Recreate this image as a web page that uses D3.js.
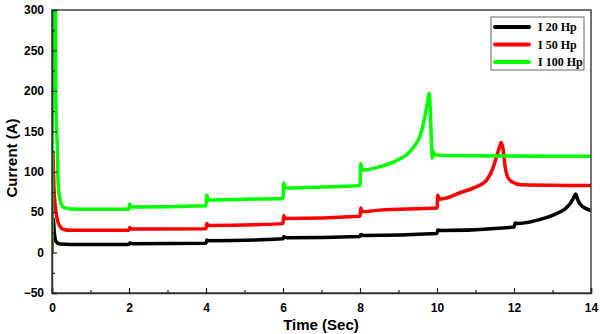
<!DOCTYPE html>
<html><head><meta charset="utf-8">
<script src="https://cdn.jsdelivr.net/npm/d3@7"></script>
<style>body{margin:0;background:#fff}svg{display:block}</style>
</head><body>
<svg id="c" width="600" height="334"></svg>
<script>
const seriesNames = ["I 20 Hp", "I 50 Hp", "I 100 Hp"];
const seriesColors = ["#000000", "#ff0000", "#00ff00"];
const xTicks = [0, 2, 4, 6, 8, 10, 12, 14];
const yTicks = [-50, 0, 50, 100, 150, 200, 250, 300];

const i20 = [[0,0],[0.03,42],[0.06,25],[0.1,14],[0.2,10.5],[0.5,10],[2,10],[2.02,11.8],[2.1,11],[4,11.5],[4.02,15.5],[4.1,14.5],[6,17],[6.02,19.5],[6.1,18.3],[8,20],[8.02,22.5],[8.1,21],[10,23.5],[10.02,27.8],[10.1,27.3],[12,31.5],[12.03,36.5],[12.1,36],[12.75,42],[13.1,48],[13.3,53],[13.45,60],[13.55,68],[13.6,72.5],[13.65,66],[13.75,58],[13.85,55],[14,52]];
const i50 = [[0,0],[0.02,125],[0.05,80],[0.07,65],[0.12,45],[0.2,33],[0.3,28.5],[0.5,27.5],[2,27.5],[2.02,31],[2.06,29],[4,29.5],[4.02,36],[4.06,33.5],[6,35.8],[6.02,46],[6.06,42],[8,45],[8.02,55],[8.06,50.5],[8.5,52.5],[10,55],[10.02,71],[10.06,66],[10.2,67],[10.6,74],[11.0,81],[11.28,89],[11.45,104],[11.55,119],[11.62,130],[11.67,136],[11.72,127],[11.77,106],[11.83,94],[11.93,88],[12.2,84],[14,83]];
const i100 = [[0,0],[0.01,320],[0.09,320],[0.1,190],[0.14,127],[0.16,86],[0.21,65],[0.3,56],[0.5,54],[1,53.5],[2,53.5],[2.02,60],[2.05,56.5],[4,58],[4.02,71],[4.06,65],[5,66],[6,67],[6.02,86],[6.06,80],[7,81],[8,83],[8.02,110],[8.06,102],[8.5,106],[9.0,115],[9.21,121],[9.4,131],[9.56,144],[9.69,169],[9.76,188],[9.8,197],[9.83,170],[9.86,130],[9.88,117],[9.9,125],[9.95,121],[10.2,120],[14,119]];
const series = [i20, i50, i100];

const svg = d3.select("#c");
const x = d3.scaleLinear().domain([0, 14]).range([52, 591]);
const y = d3.scaleLinear().domain([-50, 300]).range([293, 10]);

svg.append("defs").append("clipPath").attr("id","clip")
  .append("rect").attr("x",52).attr("y",10).attr("width",539).attr("height",283);

const line = d3.line().x(d => x(d[0])).y(d => y(d[1])).curve(d3.curveMonotoneX);
const g = svg.append("g").attr("clip-path","url(#clip)");
series.forEach((s, i) => {
  g.append("path").datum(s).attr("d", line)
    .attr("fill","none").attr("stroke", seriesColors[i])
    .attr("stroke-width", 3.5).attr("stroke-linejoin","round");
});

// frame
svg.append("rect").attr("x",52).attr("y",10).attr("width",539).attr("height",283)
  .attr("fill","none").attr("stroke","#444").attr("stroke-width",1.5);

const fontAx = "'Liberation Sans', Arial, sans-serif";
svg.append("g").attr("transform","translate(0,293)")
  .call(d3.axisBottom(x).tickValues(xTicks).tickSize(-5).tickPadding(10).tickFormat(d3.format("d")));
svg.append("g").attr("transform","translate(0,293)")
  .call(d3.axisBottom(x).tickValues(d3.range(1,14,2)).tickSize(-3).tickFormat(""))
  .call(s => s.select(".domain").remove());
svg.append("g").attr("transform","translate(52,0)")
  .call(d3.axisLeft(y).tickValues(yTicks).tickSize(-5).tickPadding(8).tickFormat(d3.format("d")));
svg.append("g").attr("transform","translate(52,0)")
  .call(d3.axisLeft(y).tickValues(d3.range(-25,300,50)).tickSize(-3).tickFormat(""))
  .call(s => s.select(".domain").remove());

svg.selectAll(".tick line").attr("stroke","#222").attr("stroke-width",1.2);
svg.selectAll(".domain").attr("stroke","#333").attr("stroke-width",1.5);
svg.selectAll(".tick text").attr("font-family",fontAx).attr("font-weight","bold")
  .attr("font-size","12px").attr("fill","#000");

svg.append("text").attr("x",321).attr("y",330).attr("text-anchor","middle")
  .attr("font-family",fontAx).attr("font-weight","bold").attr("font-size","15px").text("Time (Sec)");
svg.append("text").attr("transform","translate(17,158) rotate(-90)").attr("text-anchor","middle")
  .attr("font-family",fontAx).attr("font-weight","bold").attr("font-size","15px").text("Current (A)");

// legend
const lg = svg.append("g");
lg.append("rect").attr("x",491).attr("y",17).attr("width",93).attr("height",53)
  .attr("fill","#fff").attr("stroke","#666").attr("stroke-width",1);
seriesNames.forEach((n, i) => {
  const yy = 27 + i * 17.5;
  lg.append("line").attr("x1",495).attr("x2",529).attr("y1",yy).attr("y2",yy)
    .attr("stroke",seriesColors[i]).attr("stroke-width",4).attr("stroke-linecap","round");
  lg.append("text").attr("x",538).attr("y",yy+4).attr("font-family","'Liberation Serif', 'Times New Roman', serif")
    .attr("font-weight","bold").attr("font-size","12px").text(n);
});
</script>
</body></html>
